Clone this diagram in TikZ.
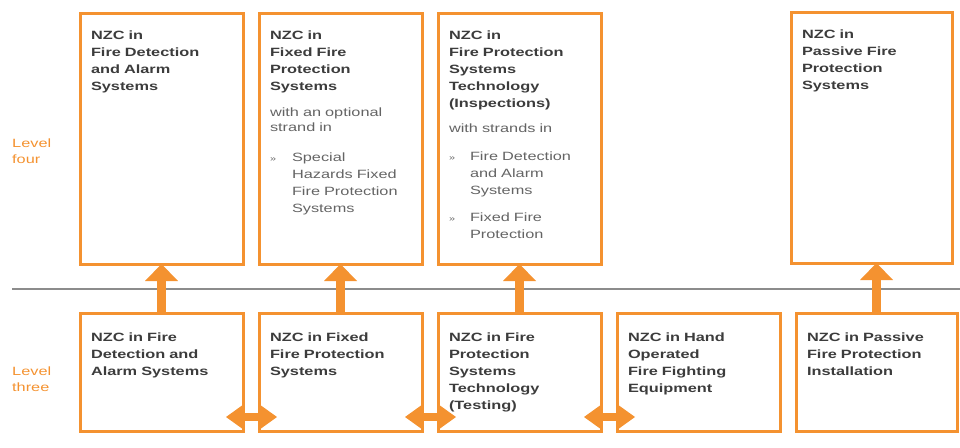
\documentclass[tikz,border=0pt]{standalone}
\usepackage{fontspec}
\setmainfont{Liberation Sans}[FakeStretch=1.36]
\usetikzlibrary{arrows.meta,positioning}
\definecolor{nzcorange}{RGB}{244,146,48}
\definecolor{nzcdark}{RGB}{60,60,60}
\definecolor{nzcgrey}{RGB}{100,100,100}
\definecolor{nzcrule}{RGB}{140,140,140}

\begin{document}
\begin{tikzpicture}[x=1pt, y=-1pt,
    box/.style={rectangle, draw=nzcorange, line width=3pt, anchor=north west, outer sep=0pt,
        inner xsep=11pt, inner ysep=0pt, text width=141pt, align=left,
        font=\fontsize{12}{17.2}\selectfont, text=nzcdark},
    upper/.style={box, text height=26pt, text depth=225pt},
    lower/.style={box, text height=28pt, text depth=90pt},
    level/.style={anchor=base west, inner sep=0pt, text width=50pt, align=left,
        font=\fontsize{12}{16.5}\selectfont, text=nzcorange},
    rise/.style={draw=nzcorange, line width=9pt, -{Triangle[length=17pt, width=33pt, line width=0pt]}},
    link/.style={draw=nzcorange, line width=8pt,
        {Triangle[length=16pt, width=23pt, line width=0pt]}-{Triangle[length=16pt, width=23pt, line width=0pt]}},
    divider/.style={draw=nzcrule, line width=2pt}
    ]
    \useasboundingbox (0,0) rectangle (960,447);

    % levels
    \node (LevelFour) [level] at (12,147) {Level\\four};
    \node (LevelThree) [level] at (12,375) {Level\\three};
    \coordinate (RuleL) at (12,289);
    \coordinate (RuleR) at (960,289);
    \draw[divider] (RuleL) -- (RuleR);

    % level four
    \node (Four01) [upper] at (80,13) {\bfseries NZC in\\Fire Detection\\and Alarm\\Systems};
    \node (Four02) [upper] at (259,13) {{\bfseries NZC in\\Fixed Fire\\Protection\\Systems}\\[8.8pt]
        \color{nzcgrey}with an optional\\[-2pt]strand in\\[12pt]
        \makebox[22pt][l]{\footnotesize »}Special\\
        \hspace*{22pt}Hazards Fixed\\
        \hspace*{22pt}Fire Protection\\
        \hspace*{22pt}Systems};
    \node (Four03) [upper] at (438,13) {{\bfseries NZC in\\Fire Protection\\Systems\\Technology\\(Inspections)}\\[7.2pt]
        \color{nzcgrey}with strands in\\[11pt]
        \makebox[21pt][l]{\footnotesize »}Fire Detection\\
        \hspace*{21pt}and Alarm\\
        \hspace*{21pt}Systems\\[9.5pt]
        \makebox[21pt][l]{\footnotesize »}Fixed Fire\\
        \hspace*{21pt}Protection};
    \node (Four04) [upper, text width=139pt] at (791,12) {\bfseries NZC in\\Passive Fire\\Protection\\Systems};

    % level three
    \node (Three01) [lower] at (80,313) {\bfseries NZC in Fire\\Detection and\\Alarm Systems};
    \node (Three02) [lower] at (259,313) {\bfseries NZC in Fixed\\Fire Protection\\Systems};
    \node (Three03) [lower] at (438,313) {\bfseries NZC in Fire\\Protection\\Systems\\Technology\\(Testing)};
    \node (Three04) [lower] at (617,313) {\bfseries NZC in Hand\\Operated\\Fire Fighting\\Equipment};
    \node (Three05) [lower, text width=139pt] at (796,313) {\bfseries NZC in Passive\\Fire Protection\\Installation};

    % pathways
    \draw[rise] (Three01.north) -- (Four01.south);
    \draw[rise] (Three02.north) -- (Four02.south);
    \draw[rise] (Three03.north) -- (Four03.south);
    \draw[rise] (Three05.north) -- (Three05.north |- Four04.south);
    \draw[link] ([shift={(-17,-14)}]Three01.south east) -- ([shift={(18,-14)}]Three02.south west);
    \draw[link] ([shift={(-17,-14)}]Three02.south east) -- ([shift={(18,-14)}]Three03.south west);
    \draw[link] ([shift={(-17,-14)}]Three03.south east) -- ([shift={(18,-14)}]Three04.south west);
\end{tikzpicture}
\end{document}
